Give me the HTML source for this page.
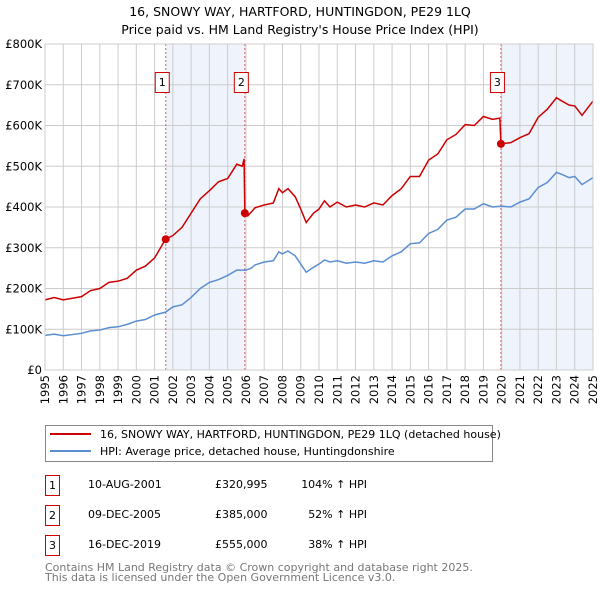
<!DOCTYPE html>
<html><head><meta charset="utf-8"><style>
body{margin:0;background:#fff;font-family:"DejaVu Sans","Liberation Sans",sans-serif;}
svg text{font-family:"DejaVu Sans","Liberation Sans",sans-serif;}
</style></head><body>
<svg id="chart" width="600" height="590" xmlns="http://www.w3.org/2000/svg">
<text x="300" y="16" font-size="12.5" text-anchor="middle">16, SNOWY WAY, HARTFORD, HUNTINGDON, PE29 1LQ</text>
<text x="300" y="34" font-size="12.5" text-anchor="middle">Price paid vs. HM Land Registry's House Price Index (HPI)</text>
<g id="plot"></g>
<g>
<rect x="45.5" y="425.5" width="447" height="36" fill="#fff" stroke="#888"/>
<line x1="50" y1="434" x2="91" y2="434" stroke="#cc0000" stroke-width="2"/>
<text x="100" y="438" font-size="11">16, SNOWY WAY, HARTFORD, HUNTINGDON, PE29 1LQ (detached house)</text>
<line x1="50" y1="451" x2="91" y2="451" stroke="#5b8ed1" stroke-width="2"/>
<text x="100" y="455" font-size="11">HPI: Average price, detached house, Huntingdonshire</text>
</g>
<g font-size="11">
<rect x="45.5" y="475.5" width="14" height="20" fill="#fff" stroke="#cc0000"/><text x="52.5" y="489" text-anchor="middle">1</text>
<text x="88" y="488">10-AUG-2001</text><text x="215" y="488">£320,995</text><text x="367" y="488" text-anchor="end">104% ↑ HPI</text>
<rect x="45.5" y="505.5" width="14" height="20" fill="#fff" stroke="#cc0000"/><text x="52.5" y="519" text-anchor="middle">2</text>
<text x="88" y="518">09-DEC-2005</text><text x="215" y="518">£385,000</text><text x="367" y="518" text-anchor="end">52% ↑ HPI</text>
<rect x="45.5" y="535.5" width="14" height="20" fill="#fff" stroke="#cc0000"/><text x="52.5" y="549" text-anchor="middle">3</text>
<text x="88" y="548">16-DEC-2019</text><text x="215" y="548">£555,000</text><text x="367" y="548" text-anchor="end">38% ↑ HPI</text>
</g>
<text x="45" y="571" font-size="11" fill="#777">Contains HM Land Registry data © Crown copyright and database right 2025.</text>
<text x="45" y="581" font-size="11" fill="#777">This data is licensed under the Open Government Licence v3.0.</text>
</svg>
<script>
const hpiDates=[1995,1995.5,1996,1997,1997.5,1998,1998.5,1999,1999.5,2000,2000.5,2001,2001.6,2002,2002.5,2003,2003.5,2004,2004.5,2005,2005.5,2006,2006.3,2006.5,2007,2007.5,2007.8,2008,2008.3,2008.7,2009,2009.3,2009.7,2010,2010.3,2010.6,2011,2011.5,2012,2012.5,2013,2013.5,2014,2014.5,2015,2015.5,2016,2016.5,2017,2017.5,2018,2018.5,2019,2019.5,2020,2020.5,2021,2021.5,2022,2022.5,2023,2023.3,2023.7,2024,2024.4,2025];
const hpiValues=[85,88,84,90,96,98,104,106,112,120,124,135,142,155,160,178,200,215,222,232,245,245,250,258,265,268,290,285,292,280,260,240,252,260,270,265,268,262,265,262,268,265,280,290,310,312,335,345,368,375,395,395,408,400,402,400,412,420,448,460,485,480,472,475,455,472];
const priceDates=[1995,1995.5,1996,1997,1997.5,1998,1998.5,1999,1999.5,2000,2000.5,2001,2001.6,2002,2002.5,2003,2003.5,2004,2004.5,2005,2005.5,2005.8,2005.9,2005.94,2006.1,2006.5,2007,2007.5,2007.8,2008,2008.3,2008.7,2009,2009.3,2009.7,2010,2010.3,2010.6,2011,2011.5,2012,2012.5,2013,2013.5,2014,2014.5,2015,2015.5,2016,2016.5,2017,2017.5,2018,2018.5,2019,2019.5,2019.9,2019.96,2020.5,2021,2021.5,2022,2022.5,2023,2023.3,2023.7,2024,2024.4,2025];
const priceValues=[172,178,172,180,195,200,215,218,225,245,255,275,321,330,350,385,420,440,462,470,505,500,518,385,378,398,405,410,445,435,445,425,395,362,385,395,415,400,412,400,405,400,410,405,428,445,475,475,515,530,565,578,602,600,622,615,618,555,558,570,580,620,640,668,660,650,648,625,660];
const saleDates=[2001.61,2005.94,2019.96];
const saleValues=[321,385,555];
const saleLabels=["1","2","3"];
const yTicks=[0,100,200,300,400,500,600,700,800];
const yTickLabels=["£0","£100K","£200K","£300K","£400K","£500K","£600K","£700K","£800K"];
const xYears=[1995,1996,1997,1998,1999,2000,2001,2002,2003,2004,2005,2006,2007,2008,2009,2010,2011,2012,2013,2014,2015,2016,2017,2018,2019,2020,2021,2022,2023,2024,2025];

const L=45,R=593,T=44,B=370;
const xs=d=>L+(d-1995)/30*(R-L);
const ys=v=>B-v/800*(B-T);
const NS="http://www.w3.org/2000/svg";
const plot=document.getElementById('plot');
function mk(tag,attrs,parent){const e=document.createElementNS(NS,tag);for(const k in attrs)e.setAttribute(k,attrs[k]);(parent||plot).appendChild(e);return e;}

let s1=mk('rect',{x:xs(saleDates[0]),y:T,width:xs(saleDates[1])-xs(saleDates[0]),height:B-T,fill:'#eef3fc'});


let s2=mk('rect',{x:xs(saleDates[2]),y:T,width:R-xs(saleDates[2]),height:B-T,fill:'#eef3fc'});



yTicks.forEach((v,i)=>{
  let g=mk('line',{x1:L,x2:R,y1:ys(v),y2:ys(v),stroke:'#cccccc','stroke-width':1});
  
  
  let t=mk('text',{x:L-3,y:ys(v)+4,'font-size':11.5,'text-anchor':'end'});
  t.textContent=yTickLabels[i];
  
  
});
xYears.forEach(yr=>{
  let g=mk('line',{x1:xs(yr),x2:xs(yr),y1:T,y2:B,stroke:'#cccccc','stroke-width':1});
  
  
  const tx=xs(yr)+4, ty=B+5;
  let t=mk('text',{x:0,y:0,'font-size':11.5,'text-anchor':'end',transform:'translate('+tx+','+ty+') rotate(-90)'});
  t.style.transform='translate('+tx+'px,'+ty+'px) rotate(-90deg)';
  t.textContent=String(yr);
  
  
});

saleDates.forEach((d,i)=>{
  let l=mk('line',{x1:xs(d),x2:xs(d),y1:T,y2:B,stroke:'#e06060','stroke-width':1,'stroke-dasharray':'2,2'});
  
  
  let bx=mk('rect',{x:xs(d)-10.5,y:72.5,width:14,height:20,fill:'#fff',stroke:'#cc0000'});
  
  
  let t=mk('text',{x:xs(d)-3.5,y:86,'font-size':11,'text-anchor':'middle'});
  t.textContent=saleLabels[i];
  
  
});

let hp=mk('polyline',{points:hpiDates.map((d,i)=>xs(d)+','+ys(hpiValues[i])).join(' '),fill:'none',stroke:'#5b8ed1','stroke-width':1.5});


let pp=mk('polyline',{points:priceDates.map((d,i)=>xs(d)+','+ys(priceValues[i])).join(' '),fill:'none',stroke:'#cc0000','stroke-width':1.5});


saleDates.forEach((d,i)=>{
  let c=mk('circle',{cx:xs(d),cy:ys(saleValues[i]),r:4,fill:'#cc0000'});
  
  
});
let fr=mk('rect',{x:L,y:T,width:R-L,height:B-T,fill:'none',stroke:'#cccccc'});


</script>
</body></html>
